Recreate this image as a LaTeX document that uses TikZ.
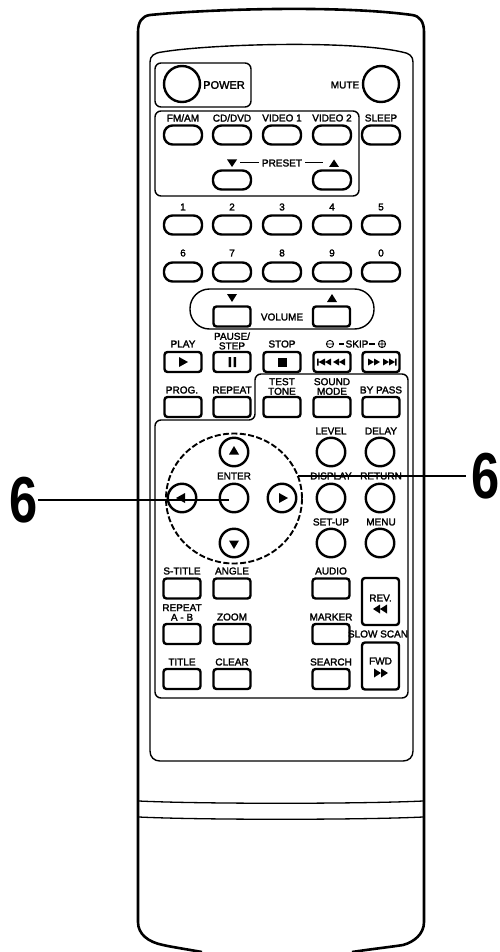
\documentclass[tikz,border=0pt]{standalone}
\usepackage{fontspec}
\setmainfont{Liberation Sans}
\newfontfamily\lblfont[RawFeature={embolden=2}]{Liberation Sans}
\tikzset{
  lbl/.style={inner sep=0pt,font=\lblfont\fontsize{10}{9.6}\selectfont,text=black,draw=none,align=center},
  pill/.style={draw=black,line width=2.4pt,fill=white,rounded corners=8.5pt,minimum width=38pt,minimum height=19pt,inner sep=0pt},
  btn/.style={draw=black,line width=2.4pt,fill=white,rounded corners=3pt,minimum width=37pt,minimum height=20pt,inner sep=0pt},
  rnd/.style={draw=black,line width=2.4pt,fill=white,circle,minimum size=28.5pt,inner sep=0pt},
  big/.style={draw=black,line width=2.4pt,fill=white,circle,minimum size=36pt,inner sep=0pt},
  tri/.style={fill=black,draw=none},
  group/.style={draw=black,line width=1.4pt,rounded corners=6pt},
  body/.style={draw=black,line width=2.6pt},
  six/.style={inner sep=0pt,font=\bfseries\fontsize{65}{65}\selectfont,xscale=.78},
  lead/.style={draw=black,line width=1.6pt}
}
\begin{document}
\begin{tikzpicture}[x=1pt,y=-1pt]
\useasboundingbox (0,0) rectangle (500,952);
% body
\path[body,line cap=butt] (202,952) .. controls (185,949) and (172,947) .. (163,945) .. controls (148,942) and (138,934) .. (138,922) -- (138,32) .. controls (138,22) and (142,16) .. (150,15) .. controls (210,9) and (340,5) .. (412,15) .. controls (420,16) and (424,22) .. (424,32) -- (424,922) .. controls (424,934) and (414,942) .. (403,945) .. controls (390,947) and (372,949) .. (352,952);
\path[draw=black,line width=1.4pt] (150,62) .. controls (150,56) and (154,53) .. (162,52) .. controls (210,44) and (350,40) .. (402,52) .. controls (409,53) and (413,56) .. (413,62) -- (413,751) .. controls (413,757) and (409,761) .. (403,761) -- (160,761) .. controls (154,761) and (150,757) .. (150,751) -- cycle;
\path[draw=black,line width=1.3pt] (139,801) .. controls (200,804) and (360,804) .. (423,801);
\path[draw=black,line width=1.3pt] (139,817) .. controls (200,820) and (360,820) .. (423,817);
% groups
\path[group] (155,63) rectangle (251,107);
\path[group] (155,111) rectangle (359,196);
\path[draw=black,line width=1.4pt,rounded corners=19.5pt] (190,289) rectangle (374,329);
\path[draw=black,line width=1.4pt,rounded corners=6pt] (155,698) -- (155,420) -- (255,420) -- (255,374) -- (408,374) -- (408,698) -- cycle;
% dashed circle
\path[draw=black,line width=1.9pt,dash pattern=on 6pt off 2.4pt] (234,498.5) ellipse [x radius=68, y radius=65];
% power
\node[big] (power) at (182,84) {};
\node[big] (mute) at (381,84) {};
\node[lbl,font=\lblfont\fontsize{11}{11}\selectfont] (tpower) at (224,85) {POWER};
\node[lbl] (tmute) at (345,85) {MUTE};
% top row
\foreach \n/\x/\t in {a/183/FM\slash AM,b/232/CD\slash DVD,c/282/VIDEO 1,d/332/VIDEO 2,e/381/SLEEP}{
  \node[pill] (p\n) at (\x,135) {};
  \node[lbl] (l\n) at (\x,118) {\t};
}
\node[pill] (presetd) at (232,180) {};
\node[pill] (presetu) at (332,180) {};
\node[lbl] (tpreset) at (282,163) {PRESET};
\path[tri] (227,159.5) -- (237,159.5) -- (232,167) -- cycle;
\path[tri] (329,167) -- (339,167) -- (334,159.5) -- cycle;
\path[draw=black,line width=1pt] (240,163) -- (259,163) (305,163) -- (323,163);
% numbers
\foreach \x/\t in {183/1,232/2,282/3,332/4,381/5}{
  \node[pill] (n\t) at (\x,225) {};
  \node[lbl] (ln\t) at (\x,207) {\t};
}
\foreach \x/\t in {183/6,232/7,282/8,332/9,381/0}{
  \node[pill] (n\t) at (\x,272) {};
  \node[lbl] (ln\t) at (\x,253) {\t};
}
% volume
\node[btn] (vd) at (232,316.5) {};
\node[btn] (vu) at (331.5,316.5) {};
\node[lbl] (tvol) at (282,317) {VOLUME};
\path[tri] (227,294) -- (237,294) -- (232,302) -- cycle;
\path[tri] (327,302) -- (337,302) -- (332,294) -- cycle;
% transport
\node[btn] (bplay) at (183,362) {};
\node[btn] (bpause) at (232,362) {};
\node[btn] (bstop) at (282,362) {};
\node[btn] (bprev) at (332,362) {};
\node[btn] (bnext) at (381,362) {};
\node[lbl] (tplay) at (183,344) {PLAY};
\node[lbl] (tpause) at (232,341) {PAUSE/\\STEP};
\node[lbl] (tstop) at (282,344) {STOP};
\node[lbl] (tskip) at (357,344) {SKIP};
\path[draw=black,line width=.9pt] (330,344) circle (3.6) (326.4,344) -- (333.6,344);
\path[draw=black,line width=.9pt] (382,344) circle (3.6) (378.4,344) -- (385.6,344) (382,340.4) -- (382,347.6);
\path[draw=black,line width=1.1pt] (339,344) -- (344,344) (369,344) -- (375,344);
\path[tri] (179,357) -- (188,362) -- (179,367) -- cycle;
\path[tri] (228.5,357) rectangle (231,367) (233.5,357) rectangle (236,367);
\path[tri] (278,357.5) rectangle (287,366.5);
% prev/next icons
\path[tri] (317,358.5) rectangle (318.7,365.5) (325,358.5) -- (325,365.5) -- (318.5,362) -- cycle (331,358.5) -- (331,365.5) -- (325,362) -- cycle (339,358.5) -- (339,365.5) -- (333,362) -- cycle (345,358.5) -- (345,365.5) -- (339,362) -- cycle;
\path[tri] (368,358.5) -- (368,365.5) -- (374,362) -- cycle (374,358.5) -- (374,365.5) -- (380,362) -- cycle (383,358.5) -- (383,365.5) -- (389,362) -- cycle (389,358.5) -- (389,365.5) -- (395,362) -- cycle (395,358.5) rectangle (396.7,365.5);
% row 4
\foreach \n/\x in {x/183,y/232,z/282,u/332,v/381}{\node[btn] (r\n) at (\x,407) {};}
\node[lbl] (tprog) at (182,390) {PROG.};
\node[lbl] (trep) at (232,390) {REPEAT};
\node[lbl] (ttest) at (282,386.5) {TEST\\TONE};
\node[lbl] (tsound) at (332,386.5) {SOUND\\MODE};
\node[lbl] (tby) at (381,390) {BY PASS};
% circles
\foreach \n/\x/\y/\t in {lev/331/452/LEVEL,del/380/452/DELAY,dis/331/498/DISPLAY,ret/380/498/RETURN,set/331/543/SET-UP,men/380/543/MENU}{
  \node[rnd] (c\n) at (\x,\y) {};
}
\node[lbl] (tlev) at (331,431) {LEVEL};
\node[lbl] (tdel) at (381,431) {DELAY};
\node[lbl] (tdis) at (331,476) {DISPLAY};
\node[lbl] (tret) at (381,476) {RETURN};
\node[lbl] (tset) at (331,522) {SET-UP};
\node[lbl] (tmen) at (381,522) {MENU};
% dpad
\node[rnd] (up) at (234,452) {};
\node[rnd] (left) at (182,498) {};
\node[rnd] (enter) at (234,498) {};
\node[rnd] (right) at (282,498) {};
\node[rnd] (down) at (234,543) {};
\node[lbl] (tenter) at (234,476) {ENTER};
\path[tri] (229,454.5) -- (239,454.5) -- (234,446) -- cycle;
\path[tri] (229,540.5) -- (239,540.5) -- (234,549) -- cycle;
\path[tri] (279,493) -- (279,503) -- (288,498) -- cycle;
\path[tri] (185,493) -- (185,503) -- (176,498) -- cycle;
% bottom
\foreach \n/\x/\y in {st/182/588.5,an/232/588.5,au/331/588.5,ra/182/634,zo/232/634,ma/331/634,ti/182/679,cl/232/679,se/331/679}{
  \node[btn] (b\n) at (\x,\y) {};
}
\node[lbl] (tst) at (182,571) {S-TITLE};
\node[lbl] (tan) at (232,571) {ANGLE};
\node[lbl] (tau) at (331,571) {AUDIO};
\node[lbl] (tra) at (182,612.5) {REPEAT\\A - B};
\node[lbl] (tzo) at (232,617) {ZOOM};
\node[lbl] (tma) at (331,617) {MARKER};
\node[lbl] (tti) at (182,662) {TITLE};
\node[lbl] (tcl) at (232,662) {CLEAR};
\node[lbl] (tse) at (331,662) {SEARCH};
\node[btn,minimum width=37pt,minimum height=47pt] (brev) at (380.5,601.5) {};
\node[btn,minimum width=37pt,minimum height=47pt] (bfwd) at (380.5,666) {};
\node[lbl] (trev) at (380.5,598) {REV.};
\node[lbl] (tfwd) at (380.5,661) {FWD};
\node[lbl] (tslow) at (378,634) {SLOW SCAN};
\path[tri] (380,604.5) -- (380,613.5) -- (373,609) -- cycle (387,604.5) -- (387,613.5) -- (380,609) -- cycle;
\path[tri] (374,668.5) -- (374,677.5) -- (381,673) -- cycle (381,668.5) -- (381,677.5) -- (388,673) -- cycle;
% leaders
\node[six] (sixl) at (23.5,500.5) {6};
\node[six] (sixr) at (485.5,476) {6};
\coordinate (le) at (229,500);
\coordinate (re) at (298,476);
\path[lead] (le) -- (sixl.east |- le) ++(6,0) -- (le);
\path[lead] (re) -- ([xshift=-5pt]sixr.west);
\end{tikzpicture}
\end{document}
